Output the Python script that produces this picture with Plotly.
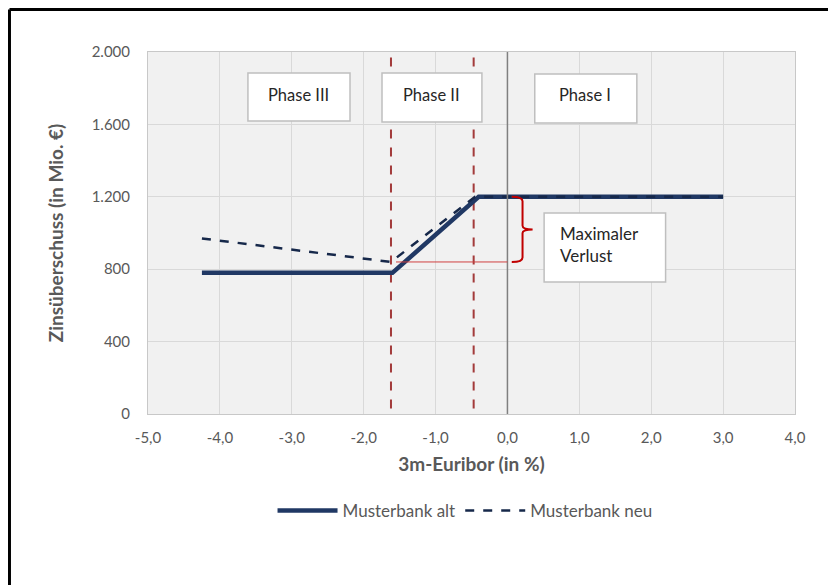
import plotly.graph_objects as go

# data
alt_x = [-4.25, -1.6, -0.4, 3.0]
alt_y = [780, 780, 1200, 1200]
neu_x = [-4.25, -1.62, -0.45, 3.0]
neu_y = [970, 840, 1200, 1200]
phase_bounds = [-1.62, -0.47]
loss_low, loss_high = 840, 1200
x_ticks = [-5, -4, -3, -2, -1, 0, 1, 2, 3, 4]
x_labels = ["-5,0", "-4,0", "-3,0", "-2,0", "-1,0", "0,0", "1,0", "2,0", "3,0", "4,0"]
y_ticks = [0, 400, 800, 1200, 1600, 2000]
y_labels = ["0", "400", "800", "1.200", "1.600", "2.000"]

navy = "#203864"
red_dash = "#A33B3B"
red = "#C00000"
grey_txt = "#595959"
font = "Lato"

fig = go.Figure()
fig.add_trace(go.Scatter(x=alt_x, y=alt_y, mode="lines", name="Musterbank alt",
                         line=dict(color=navy, width=4.5)))
fig.add_trace(go.Scatter(x=neu_x, y=neu_y, mode="lines", name="Musterbank neu",
                         line=dict(color="#16284A", width=2.5, dash="dash")))

shapes = []
# phase boundaries
for b in phase_bounds:
    shapes.append(dict(type="line", xref="x", yref="y", x0=b, x1=b, y0=30, y1=2000,
                       line=dict(color=red_dash, width=2, dash="dash"), layer="below"))
# zero line
shapes.append(dict(type="line", xref="x", yref="y", x0=0, x1=0, y0=0, y1=2000,
                   line=dict(color="#808080", width=1.5)))
# loss level
shapes.append(dict(type="line", xref="x", yref="y", x0=-1.55, x1=0, y0=loss_low, y1=loss_low,
                   line=dict(color="#D04040", width=1)))
# curly brace
mid = (loss_low + loss_high) / 2
brace = (f"M 0.06,{loss_high} Q 0.21,{loss_high} 0.21,{loss_high-25} "
         f"L 0.21,{mid+20} Q 0.21,{mid} 0.35,{mid} Q 0.21,{mid} 0.21,{mid-20} "
         f"L 0.21,{loss_low+25} Q 0.21,{loss_low} 0.06,{loss_low}")
shapes.append(dict(type="path", xref="x", yref="y", path=brace, line=dict(color=red, width=2)))

# text boxes
boxes = [(-3.61, -2.19, 1619, 1884), (-1.745, -0.355, 1613, 1884),
         (0.38, 1.80, 1608, 1878), (0.51, 2.20, 729, 1110)]
for x0, x1, y0, y1 in boxes:
    shapes.append(dict(type="rect", xref="x", yref="y", x0=x0, x1=x1, y0=y0, y1=y1,
                       fillcolor="white", line=dict(color="#BFBFBF", width=1.5)))

# frame of the picture
shapes.append(dict(type="line", xref="paper", yref="paper", x0=-0.2141, x1=1.2, y0=1.1174, y1=1.1174,
                   line=dict(color="black", width=3)))
shapes.append(dict(type="line", xref="paper", yref="paper", x0=-0.2141, x1=-0.2141, y0=1.1174, y1=-0.6,
                   line=dict(color="black", width=3)))

annotations = [
    dict(x=-2.90, y=1762, text="Phase III", font=dict(size=16.5)),
    dict(x=-1.05, y=1762, text="Phase II", font=dict(size=16.5)),
    dict(x=1.08, y=1762, text="Phase I", font=dict(size=16.5)),
    dict(x=0.70, y=935, text="Maximaler<br>Verlust", xanchor="left", align="left", font=dict(size=17)),
]
for a in annotations:
    a["font"].update(family=font, color="#262626")
    a.update(xref="x", yref="y", showarrow=False)

fig.update_layout(
    width=828, height=577,
    margin=dict(l=140, r=41, t=44, b=171),
    paper_bgcolor="white", plot_bgcolor="#F1F1F1",
    shapes=shapes, annotations=annotations,
    font=dict(family=font, size=15, color=grey_txt),
    showlegend=True,
    legend=dict(orientation="h", x=0.49, xanchor="center", y=-0.268, yanchor="middle",
                font=dict(size=17, color=grey_txt), itemwidth=60),
    xaxis=dict(range=[-5, 4], tickvals=x_ticks, ticktext=x_labels, showgrid=True,
               gridcolor="#D9D9D9", showline=True, linecolor="#C8C8C8", mirror=True,
               zeroline=False, ticks="outside", ticklen=10, tickcolor="rgba(0,0,0,0)",
               title=dict(text="<b>3m-Euribor (in %)</b>", font=dict(size=19, color=grey_txt), standoff=12)),
    yaxis=dict(range=[0, 2000], tickvals=y_ticks, ticktext=y_labels, showgrid=True,
               gridcolor="#D9D9D9", showline=True, linecolor="#C8C8C8", mirror=True,
               zeroline=False, ticks="outside", ticklen=14, tickcolor="rgba(0,0,0,0)",
               title=dict(text="<b>Zinsüberschuss (in Mio. €)</b>", font=dict(size=19, color=grey_txt), standoff=23)),
)

fig.write_html("out.html")
